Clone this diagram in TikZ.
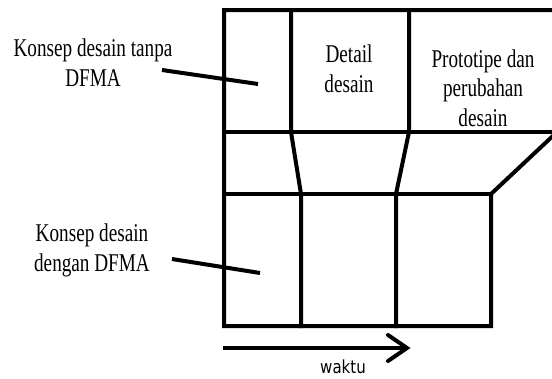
\documentclass[tikz,border=0pt]{standalone}
\usepackage{fontspec}
\usepackage{graphicx}
\setmainfont{Liberation Serif}
\newfontfamily\waktufont{DejaVu Sans}
\newcommand{\tallline}[1]{\scalebox{1}[1.33]{#1}}
\begin{document}
\begin{tikzpicture}[x=1pt,y=-1pt,
  frame/.style={line width=4pt,line join=miter,line cap=rect},
  lbl/.style={font=\fontsize{19.2}{29.5}\selectfont,align=center,inner sep=0pt,anchor=base},
  pointer/.style={line width=4pt},
  timearrow/.style={line width=4pt}]
\useasboundingbox (0,0) rectangle (552,378);
\begin{scope}
\clip (0,0) rectangle (552,378);
% coordinates of the frame
\coordinate (TL) at (224,10);
\coordinate (TR) at (556,10);
\coordinate (ML) at (224,132);
\coordinate (MR) at (556,132);
\coordinate (BL) at (224,326);
\coordinate (BR) at (491,326);
\coordinate (RL) at (224,194);
\coordinate (RR) at (491,194);
\coordinate (D) at (556,133);
\coordinate (a1) at (291,10);
\coordinate (a2) at (291,132);
\coordinate (a3) at (301,194);
\coordinate (a4) at (301,326);
\coordinate (b1) at (409,10);
\coordinate (b2) at (409,132);
\coordinate (b3) at (396,194);
\coordinate (b4) at (396,326);
\draw[frame] (TR) -- (TL) -- (BL) -- (BR) -- (RR) -- (D);
\draw[frame] (ML) -- (MR);
\draw[frame] (RL) -- (RR);
\draw[frame] (a1) -- (a2) -- (a3) -- (a4);
\draw[frame] (b1) -- (b2) -- (b3) -- (b4);
\end{scope}
% labels (anchor base = baseline of last line)
\node[lbl] (tanpa) at (93,86) {\tallline{Konsep desain tanpa}\\\tallline{DFMA}};
\node[lbl] (detail) at (349,92) {\tallline{Detail}\\\tallline{desain}};
\node[lbl] (proto) at (483,126) {\tallline{Prototipe dan}\\\tallline{perubahan}\\\tallline{desain}};
\node[lbl] (dengan) at (92,271) {\tallline{Konsep desain}\\\tallline{dengan DFMA}};
% pointers
\coordinate (p1s) at (162,70);
\coordinate (p1e) at (258,84);
\coordinate (p2s) at (172,259);
\coordinate (p2e) at (260,273);
\draw[pointer] (p1s) -- (p1e);
\draw[pointer] (p2s) -- (p2e);
% time arrow
\coordinate (ts) at (223,348);
\coordinate (te) at (407,348);
\coordinate (h1) at (388,335);
\coordinate (h2) at (388,361);
\draw[timearrow] (ts) -- (te);
\draw[timearrow,line join=miter,line cap=round] (h1) -- (te) -- (h2);
\node[font=\waktufont\fontsize{15}{18}\selectfont,anchor=base,inner sep=0pt] (waktu) at (343,373) {\scalebox{1}[1.2]{waktu}};
\end{tikzpicture}
\end{document}
